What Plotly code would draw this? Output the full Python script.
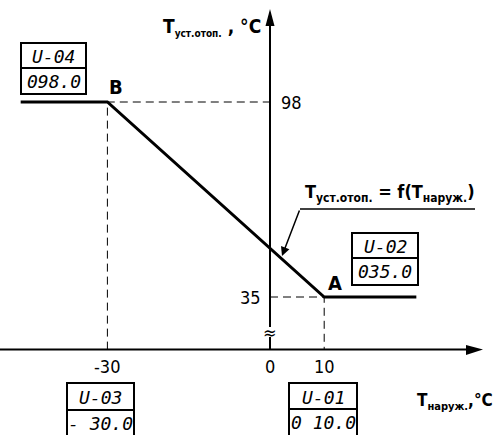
import plotly.graph_objects as go

# curve T_set = f(T_out), with breakpoints B (-30, 98) and A (10, 35)
x_curve = [-46, -30, 10, 27]
y_curve = [98, 98, 35, 35]

x_tick_vals = [-30, 0, 10]
x_tick_text = ["-30", "0", "10"]
y_tick_vals = [98, 35]
y_tick_text = ["98", "35"]

point_names = ["B", "A"]
point_x = [-30, 10]
point_y = [98, 35]

disp_codes = ["U-04", "U-02", "U-03", "U-01"]
disp_values = ["098.0", "035.0", "- 30.0", "0 10.0"]

y_break = 18      # where the x axis crosses (broken y axis)

FONT = "Liberation Sans Narrow, DejaVu Sans Condensed, Arial Narrow, sans-serif"
LCD_FONT = "DejaVu Sans Mono, Liberation Mono, monospace"


# pixel -> data helpers for decorations (layout 495x435, no margins)
def dx(px):
    return (px - 270) / 5.42


def dy(py):
    return 98 - (py - 102) / 3.0952


def sub(t, size):
    return f"<sub><span style='font-size:{size}px'>{t}</span></sub>"


fig = go.Figure()

# dashed guides
fig.add_trace(go.Scatter(x=[point_x[0], point_x[0], 0], y=[y_break, point_y[0], point_y[0]],
                         mode='lines', line=dict(color='black', width=1, dash='8px,5px'), hoverinfo='skip'))
fig.add_trace(go.Scatter(x=[0, point_x[1], point_x[1]], y=[point_y[1], point_y[1], y_break],
                         mode='lines', line=dict(color='black', width=1, dash='8px,5px'), hoverinfo='skip'))

# axes
fig.add_trace(go.Scatter(x=[dx(0), dx(470)], y=[y_break, y_break], mode='lines',
                         line=dict(color='black', width=2), hoverinfo='skip'))
fig.add_trace(go.Scatter(x=[0, 0], y=[y_break, dy(337)], mode='lines',
                         line=dict(color='black', width=2), hoverinfo='skip'))
fig.add_trace(go.Scatter(x=[0, 0], y=[dy(327), dy(20)], mode='lines',
                         line=dict(color='black', width=2), hoverinfo='skip'))

# main curve
fig.add_trace(go.Scatter(x=x_curve, y=y_curve, mode='lines',
                         line=dict(color='black', width=3), hoverinfo='skip'))

shapes = []
# arrow heads
shapes.append(dict(type='path', xref='x', yref='y', fillcolor='black', line=dict(width=0),
                   path=f"M {dx(483)},{y_break} L {dx(466)},{dy(345)} L {dx(466)},{dy(355)} Z"))
shapes.append(dict(type='path', xref='x', yref='y', fillcolor='black', line=dict(width=0),
                   path=f"M 0,{dy(9)} L {dx(265.5)},{dy(26)} L {dx(274.5)},{dy(26)} Z"))
# formula underline
shapes.append(dict(type='line', xref='x', yref='y', x0=dx(300), x1=dx(475), y0=dy(209), y1=dy(209),
                   line=dict(color='black', width=1.5)))

# display boxes (x0, x1, top, mid, bottom in px)
boxes = [(21, 86, 43, 68, 94), (352, 418, 233, 258, 285), (67, 134, 383, 410, 440), (289, 357, 383, 409, 440)]
annotations = []
for i, (bx0, bx1, bt, bm, bb) in enumerate(boxes):
    shapes.append(dict(type='rect', xref='x', yref='y', x0=dx(bx0), x1=dx(bx1), y0=dy(bt), y1=dy(bb),
                       line=dict(color='black', width=2)))
    shapes.append(dict(type='line', xref='x', yref='y', x0=dx(bx0), x1=dx(bx1), y0=dy(bm), y1=dy(bm),
                       line=dict(color='black', width=2)))
    annotations.append(dict(x=dx((bx0 + bx1) / 2), y=dy((bt + bm) / 2 + 1), text=f"<i>{disp_codes[i]}</i>",
                            showarrow=False, font=dict(family=LCD_FONT, size=18, color='black')))
    annotations.append(dict(x=dx((bx0 + bx1) / 2), y=dy(bm + 13.5), text=f"<i>{disp_values[i]}</i>",
                            showarrow=False, font=dict(family=LCD_FONT, size=18, color='black')))

# tick labels
for v, t in zip(x_tick_vals, x_tick_text):
    annotations.append(dict(x=v, y=dy(366), text=t, showarrow=False,
                            font=dict(family=FONT, size=18, color='black')))
annotations.append(dict(x=dx(279), y=y_tick_vals[0], text=y_tick_text[0], showarrow=False, xanchor='left',
                        font=dict(family=FONT, size=18, color='black')))
annotations.append(dict(x=dx(263), y=y_tick_vals[1], text=y_tick_text[1], showarrow=False, xanchor='right',
                        font=dict(family=FONT, size=18, color='black')))

# points
annotations.append(dict(x=dx(116), y=dy(87), text=f"<b>{point_names[0]}</b>", showarrow=False,
                        font=dict(family=FONT, size=20, color='black')))
annotations.append(dict(x=dx(335), y=dy(283), text=f"<b>{point_names[1]}</b>", showarrow=False,
                        font=dict(family=FONT, size=20, color='black')))

# axis titles
annotations.append(dict(x=dx(263), y=dy(27), text=f"<b>T{sub('уст.отоп.', 10)} , °C</b>", showarrow=False,
                        xanchor='right', font=dict(family=FONT, size=19, color='black')))
annotations.append(dict(x=1, xref='paper', y=dy(401), text=f"<b>T{sub('наруж.', 11)},°C</b>", showarrow=False,
                        xanchor='right', font=dict(family=FONT, size=17, color='black')))

# formula with leader arrow
annotations.append(dict(x=dx(303), y=dy(207), text=f"<b>T{sub('уст.отоп.', 12)} = f(T{sub('наруж.', 12)})</b>",
                        showarrow=False, xanchor='left', yanchor='bottom',
                        font=dict(family=FONT, size=18, color='black')))
annotations.append(dict(x=dx(282), y=dy(256), ax=dx(300), ay=dy(209), axref='x', ayref='y', text='',
                        showarrow=True, arrowhead=2, arrowsize=1.2, arrowwidth=1.5, arrowcolor='black'))

# axis break mark
annotations.append(dict(x=0, y=dy(332), text="≈", showarrow=False,
                        font=dict(family=FONT, size=18, color='black')))

fig.update_layout(width=495, height=435, margin=dict(l=0, r=0, t=0, b=0, pad=0),
                  paper_bgcolor='white', plot_bgcolor='white', showlegend=False,
                  xaxis=dict(range=[dx(0), dx(495)], visible=False, fixedrange=True),
                  yaxis=dict(range=[dy(435), dy(0)], visible=False, fixedrange=True),
                  shapes=shapes, annotations=annotations)

fig.write_html("out.html", config={'displayModeBar': False},
               post_script="document.body.style.margin='0';")
